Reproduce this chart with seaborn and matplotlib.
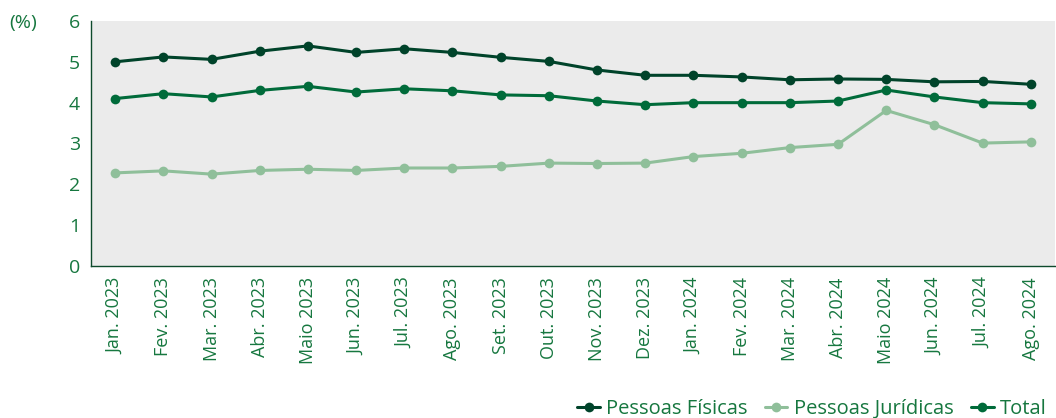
import matplotlib
matplotlib.use("Agg")
import matplotlib.pyplot as plt
import seaborn as sns
import pandas as pd
import numpy as np

# data
meses = ["Jan. 2023", "Fev. 2023", "Mar. 2023", "Abr. 2023", "Maio 2023", "Jun. 2023",
         "Jul. 2023", "Ago. 2023", "Set. 2023", "Out. 2023", "Nov. 2023", "Dez. 2023",
         "Jan. 2024", "Fev. 2024", "Mar. 2024", "Abr. 2024", "Maio 2024", "Jun. 2024",
         "Jul. 2024", "Ago. 2024"]
pf = [5.00, 5.12, 5.06, 5.26, 5.39, 5.23, 5.32, 5.23, 5.11, 5.01,
      4.80, 4.67, 4.67, 4.63, 4.56, 4.58, 4.57, 4.51, 4.52, 4.45]
pj = [2.28, 2.33, 2.25, 2.34, 2.37, 2.34, 2.40, 2.40, 2.44, 2.52,
      2.51, 2.52, 2.68, 2.76, 2.90, 2.98, 3.81, 3.46, 3.01, 3.04]
total = [4.10, 4.22, 4.14, 4.30, 4.40, 4.26, 4.34, 4.29, 4.19, 4.17,
         4.04, 3.95, 4.00, 4.00, 4.00, 4.04, 4.31, 4.14, 4.00, 3.97]
series = ["Pessoas Físicas", "Pessoas Jurídicas", "Total"]

cores = {"Pessoas Físicas": "#00432a", "Pessoas Jurídicas": "#8fbf9a", "Total": "#006b3a"}
verde = "#16773f"

df = pd.DataFrame({"x": list(range(len(meses))) * 3,
                   "valor": pf + pj + total,
                   "serie": np.repeat(series, len(meses))})

sns.set_style("white")
plt.rcParams["font.family"] = ["Open Sans", "DejaVu Sans"]

fig = plt.figure(figsize=(10.56, 4.18), dpi=100)
ax = fig.add_axes([0.0862, 0.3636, 0.9128, 0.5862])
ax.set_facecolor("#ebebeb")

sns.lineplot(data=df, x="x", y="valor", hue="serie", hue_order=series, palette=cores,
             marker="o", markersize=7, markeredgewidth=0, linewidth=2.2, ax=ax, legend=False)

ax.set_xlim(-0.5, len(meses) - 0.5)
ax.set_ylim(0, 6)
ax.set_yticks(range(7))
ax.set_xticks(range(len(meses)))
ax.set_xticklabels(meses, rotation=90)
ax.set_xticks(np.arange(-0.5, len(meses), 1), minor=True)
ax.tick_params(axis="x", which="major", length=0, pad=8, labelsize=13, labelcolor=verde)
ax.tick_params(axis="x", which="minor", length=5, width=1, color="#0e4a2c", direction="out")
ax.tick_params(axis="y", length=5, width=1, color="#0e4a2c", labelsize=14, labelcolor=verde, pad=3)
ax.set_xlabel("")
ax.set_ylabel("")

for s in ["top", "right"]:
    ax.spines[s].set_visible(False)
for s in ["left", "bottom"]:
    ax.spines[s].set_color("#0e4a2c")
    ax.spines[s].set_linewidth(1)

fig.text(0.009, 0.945, "(%)", color=verde, fontsize=14, va="center")

handles = [plt.Line2D([], [], color=cores[s], marker="o", markersize=7, markeredgewidth=0,
                      linewidth=2.2) for s in series]
fig.legend(handles, series, loc="lower right", bbox_to_anchor=(1.008, -0.045), ncol=3,
           frameon=False, fontsize=14.5, labelcolor=verde, handlelength=1.1, handletextpad=0.3,
           columnspacing=0.9)

fig.savefig("out.png", dpi=100)
